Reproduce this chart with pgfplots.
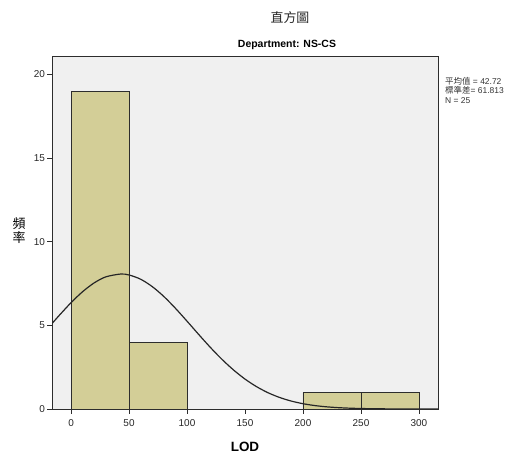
\documentclass[border=0pt]{standalone}
\usepackage{fontspec}
\setmainfont{Liberation Sans}
\newfontfamily\cjk{Noto Sans CJK TC}
\usepackage{pgfplots}
\pgfplotsset{compat=1.18}
\definecolor{barfill}{RGB}{211,206,151}
\definecolor{bg}{RGB}{240,240,240}
\definecolor{edge}{RGB}{45,45,45}
\begin{document}
\begin{tikzpicture}
\begin{axis}[
  name=main,
  scale only axis,
  width=386bp, height=353bp,
  xmin=-16.4, xmax=316.4, ymin=0, ymax=21.1,
  axis background/.style={fill=bg},
  axis line style={edge, line width=0.8bp},
  xtick={0,50,...,300}, ytick={0,5,...,20},
  tick align=outside, tick pos=left, major tick length=4.5bp,
  tick style={edge, line width=0.8bp},
  ticklabel style={font=\fontsize{10}{12}\selectfont, text=black!85},
  xticklabel style={yshift=-2.5bp},
  yticklabel style={xshift=1bp},
  /pgf/number format/assume math mode=true,
]
\addplot[ybar interval, fill=barfill, draw=edge, line width=0.9bp] coordinates {
(0,19) (50,4) (100,0) (150,0) (200,1) (250,1) (300,1)};
\addplot[smooth, black!85, line width=1.2bp] coordinates {
(-16.4,5.106) (-10,5.607) (0,6.354) (10,7.013) (20,7.540) (30,7.898) (42.72,8.067)
(50,8.011) (60,7.758) (70,7.318) (80,6.726) (90,6.021) (100,5.251) (110,4.462)
(120,3.692) (130,2.977) (140,2.339) (150,1.789) (160,1.334) (170,0.968) (180,0.685)
(190,0.472) (200,0.317) (210,0.207) (220,0.132) (230,0.082) (240,0.0495) (250,0.0292)
(260,0.0167) (270,0.0093) (280,0.005) (290,0.0026) (300,0.0013) (316.4,0.0003)};
\end{axis}
\node[font=\cjk\fontsize{13}{15}\selectfont, text=black!85] at ([shift={(238bp,391bp)}]main.south west) {直方圖};
\node[font=\bfseries\fontsize{10.5}{12}\selectfont] at ([shift={(235bp,364bp)}]main.south west) {Department: NS-CS};
\node[font=\cjk\fontsize{13}{14}\selectfont, align=center, inner sep=0pt] at ([shift={(-33bp,178bp)}]main.south west) {頻\\率};
\node[font=\bfseries\fontsize{13.5}{15}\selectfont] at ([shift={(193bp,-38bp)}]main.south west) {LOD};
\node[anchor=north west, inner sep=0pt, align=left, text=black!80, font=\fontsize{8.5}{9.5}\selectfont] at ([shift={(393bp,332bp)}]main.south west)
  {{\cjk 平均值} = 42.72\\{\cjk 標準差}= 61.813\\N = 25};
\path[use as bounding box] ([shift={(-52bp,-50bp)}]main.south west) rectangle ([shift={(468bp,409bp)}]main.south west);
\end{tikzpicture}
\end{document}
